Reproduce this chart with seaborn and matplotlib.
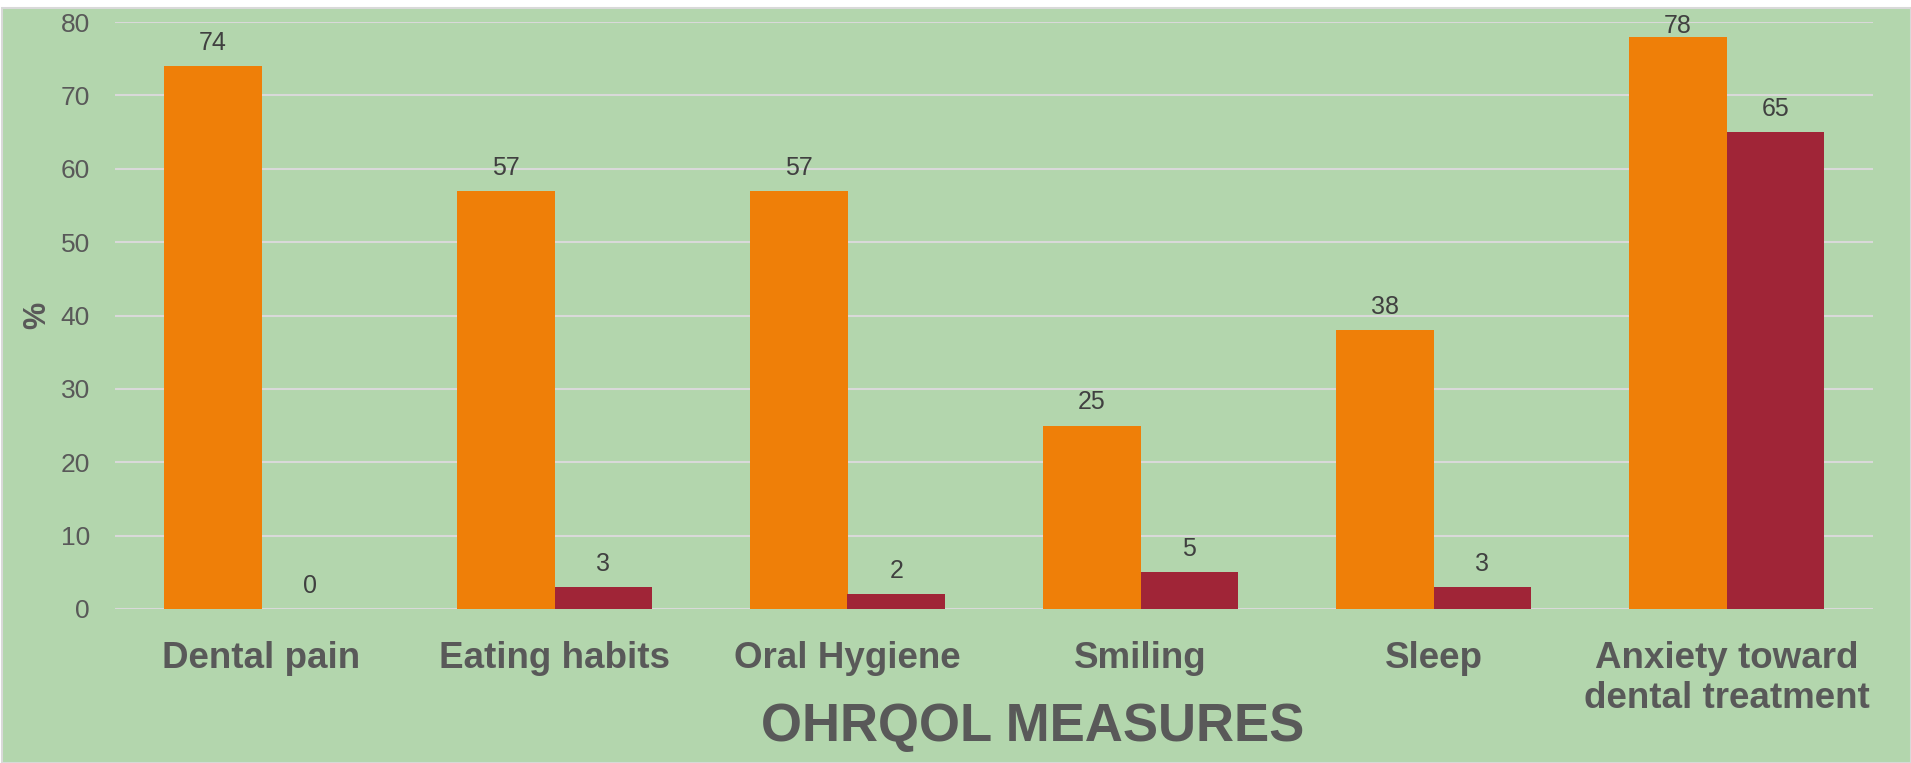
import pandas as pd
import matplotlib
matplotlib.use("Agg")
import matplotlib.pyplot as plt
import seaborn as sns
from matplotlib.patches import Rectangle

measures = ["Dental pain", "Eating habits", "Oral Hygiene", "Smiling", "Sleep",
            "Anxiety toward\ndental treatment"]
series_1 = [74, 57, 57, 25, 38, 78]
series_2 = [0, 3, 2, 5, 3, 65]
series_names = ["Series 1", "Series 2"]

df = pd.DataFrame({
    "measure": measures * 2,
    "value": series_1 + series_2,
    "series": [series_names[0]] * len(measures) + [series_names[1]] * len(measures),
})

sns.set_style("white")
plt.rcParams["font.family"] = ["Liberation Sans", "DejaVu Sans"]

bg = "#b3d6ad"
text_gray = "#595959"
label_gray = "#404040"
grid_gray = "#d9d9d9"

fig = plt.figure(figsize=(19.11, 7.63), dpi=100, facecolor="white")
fig.add_artist(Rectangle((0.0008, 0), 0.999, 1 - 8 / 763, transform=fig.transFigure,
                         facecolor=bg, edgecolor=grid_gray, linewidth=1.5, zorder=-1))
ax = fig.add_axes([115 / 1911, 1 - 609 / 763, (1873 - 115) / 1911, (609 - 22) / 763])
ax.set_facecolor("none")

sns.barplot(data=df, x="measure", y="value", hue="series",
            palette=["#ef7f08", "#a02537"], width=2 / 3, gap=0,
            saturation=1, legend=False, linewidth=0, ax=ax)

ax.set_ylim(0, 80)
ax.set_yticks(range(0, 81, 10))
ax.grid(axis="y", color=grid_gray, linewidth=1.5)
ax.set_axisbelow(True)
for s in ax.spines.values():
    s.set_visible(False)
ax.tick_params(axis="y", length=0, pad=18, labelsize=19, labelcolor=text_gray)
ax.tick_params(axis="x", length=0, pad=23, labelsize=26.5, labelcolor=text_gray)
for t in ax.get_xticklabels():
    t.set_fontweight("bold")

for cont in ax.containers:
    labels = ax.bar_label(cont, padding=8, fontsize=18, color=label_gray)
    for t, bar in zip(labels, cont):
        if bar.get_height() > 75:
            t.xyann = (0, -1)

ax.set_xlabel("OHRQOL MEASURES", fontsize=38, fontweight="bold", color=text_gray)
ax.xaxis.set_label_coords(0.522, -0.201)
ax.xaxis.label.set_va("center")
ax.set_ylabel("%", fontsize=22, fontweight="bold", color=text_gray)
ax.yaxis.set_label_coords(-0.0444, 0.5)
ax.yaxis.label.set_va("center")

fig.savefig("out.png", dpi=100, facecolor=fig.get_facecolor())
